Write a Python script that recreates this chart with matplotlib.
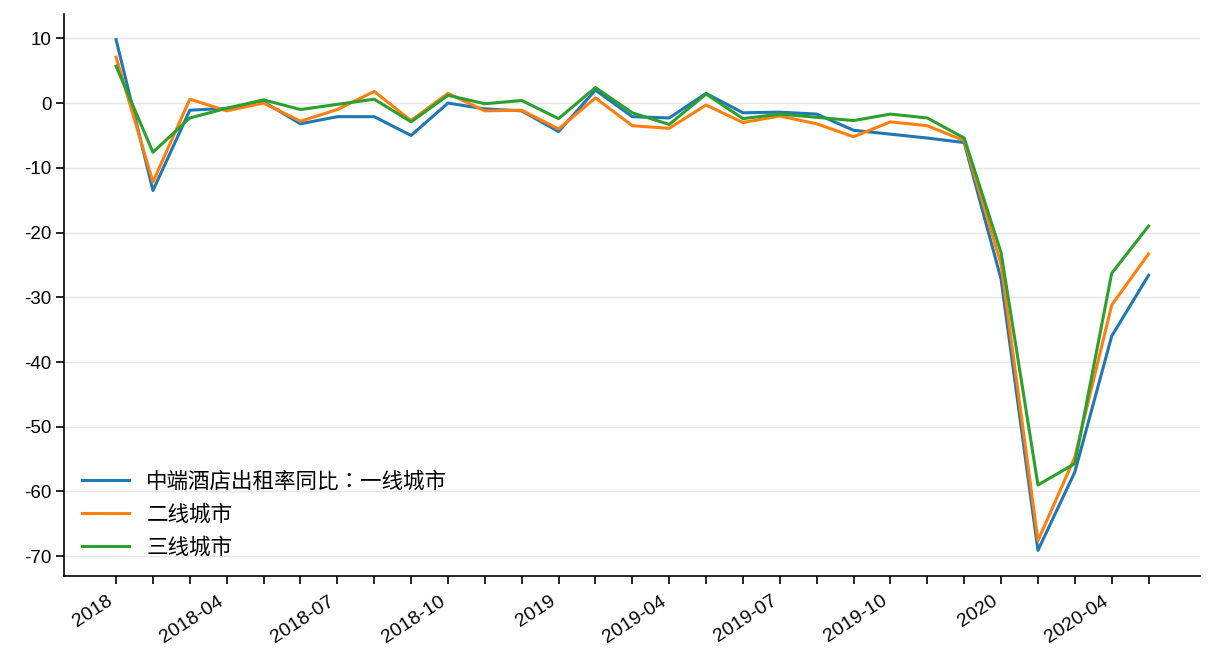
import matplotlib
matplotlib.use("Agg")
import matplotlib.pyplot as plt
import numpy as np

plt.rcParams["font.family"] = ["Liberation Sans", "Noto Sans CJK TC", "DejaVu Sans"]
plt.rcParams["axes.unicode_minus"] = False

# monthly, 2018-01 .. 2020-05
months = [f"{y}-{m:02d}" for y in (2018, 2019, 2020) for m in range(1, 13)][:29]
tick_labels = ["2018", "2018-04", "2018-07", "2018-10",
               "2019", "2019-04", "2019-07", "2019-10",
               "2020", "2020-04"]

tier1 = [9.8, -13.5, -1.1, -0.8, 0.2, -3.2, -2.1, -2.1, -5.0, 0.0, -0.9, -1.2,
         -4.4, 2.0, -2.1, -2.3, 1.5, -1.5, -1.4, -1.7, -4.2, -4.8, -5.4, -6.1,
         -27.2, -69.1, -57.0, -36.0, -26.6]
tier2 = [7.1, -12.2, 0.6, -1.2, 0.0, -2.8, -1.0, 1.8, -2.7, 1.5, -1.2, -1.1,
         -4.0, 0.8, -3.5, -3.9, -0.3, -3.0, -2.0, -3.2, -5.2, -2.9, -3.5, -5.8,
         -24.9, -67.6, -54.7, -31.2, -23.3]
tier3 = [5.7, -7.6, -2.3, -0.8, 0.5, -1.0, -0.2, 0.6, -2.9, 1.2, -0.1, 0.4,
         -2.4, 2.4, -1.5, -3.3, 1.4, -2.4, -1.7, -2.2, -2.7, -1.7, -2.3, -5.4,
         -23.1, -59.0, -55.7, -26.3, -19.0]
labels = ["中端酒店出租率同比：一线城市", "二线城市", "三线城市"]

fig, ax = plt.subplots(figsize=(12.16, 6.72), dpi=100)
x = np.arange(len(months))
for series, lab, c in zip((tier1, tier2, tier3), labels, ("C0", "C1", "C2")):
    ax.plot(x, series, color=c, lw=2.2, label=lab)

# every month gets a tick, every third month a label
ax.set_xticks(x[::3])
ax.set_xticks(x, minor=True)
ax.set_xticklabels(tick_labels, rotation=33, ha="right", fontsize=14)
ax.tick_params(axis="x", which="both", length=6, width=1.2, pad=6)
ax.tick_params(axis="y", labelsize=13.5, length=6, width=1.2)
ax.set_yticks(np.arange(-70, 11, 10))

ax.grid(axis="y", color="#e5e5e5", lw=1)
ax.set_axisbelow(True)
for s in ("top", "right"):
    ax.spines[s].set_visible(False)
for s in ("left", "bottom"):
    ax.spines[s].set_linewidth(1.2)

ax.legend(loc="lower left", frameon=False, fontsize=15.5, handlelength=2.2,
          handletextpad=0.8, labelspacing=0.55, borderaxespad=0.4)

fig.subplots_adjust(left=0.053, right=0.987, top=0.979, bottom=0.143)
fig.savefig("out.png", dpi=100)
